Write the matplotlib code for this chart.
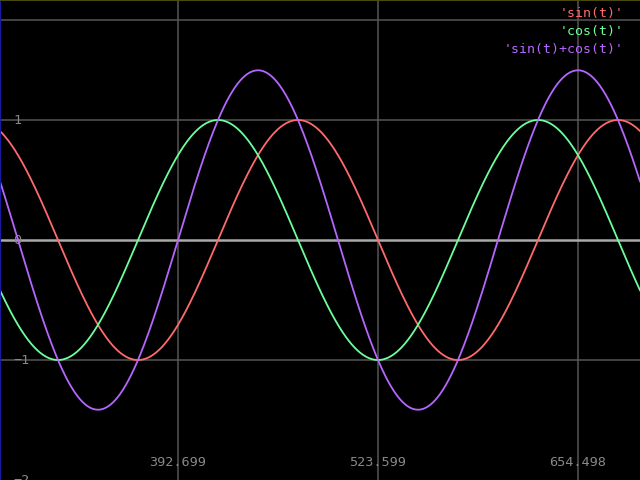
import numpy as np
import matplotlib
matplotlib.use("Agg")
import matplotlib.pyplot as plt
from matplotlib.transforms import blended_transform_factory, IdentityTransform

# x axis range and ticks (data units), t = x * 0.03
x_min, x_max = 276.2, 695.08
x_ticks = [392.699, 523.599, 654.498]
x_tick_labels = ["392.699", "523.599", "654.498"]
y_ticks = [1, 0, -1, -2]
y_tick_labels = ["1", "0", "\u22121", "\u22122"]
t_scale = 0.03

series_names = ["'sin(t)'", "'cos(t)'", "'sin(t)+cos(t)'"]
series_colors = ["#ff6b6b", "#6cff9a", "#b566ff"]

x = np.linspace(x_min, x_max, 1500)
t = x * t_scale
series = [np.sin(t), np.cos(t), np.sin(t) + np.cos(t)]

fig = plt.figure(figsize=(6.4, 4.8), dpi=100, facecolor="black")
ax = fig.add_axes([0, 0, 1, 1])
ax.set_facecolor("black")
ax.set_xlim(x_min, x_max)
ax.set_ylim(-2, 2)
for s in ax.spines.values():
    s.set_visible(False)
ax.set_xticks([])
ax.set_yticks([])

# grid
for xv in x_ticks:
    ax.axvline(xv, color="#555555", lw=1.1, zorder=1)
for yv in (1, -1, 2 - 20 / 120):
    ax.axhline(yv, color="#555555", lw=1.1, zorder=1)
ax.axhline(0, color="#aaaaaa", lw=1.8, zorder=1)

# frame hints
ax.axvline(x_min, color="#1a1aa0", lw=1.5, zorder=4)
ax.axhline(2, color="#4a4a10", lw=1.5, zorder=4)

for y, c in zip(series, series_colors):
    ax.plot(x, y, color=c, lw=1.3, zorder=3)

mono = "DejaVu Sans Mono"
xlab_tr = blended_transform_factory(ax.transData, IdentityTransform())
for xv, lab in zip(x_ticks, x_tick_labels):
    ax.text(xv, 18, lab, transform=xlab_tr, color="#888888", fontsize=9.7,
            family=mono, ha="center", va="center", zorder=2)

ylab_tr = blended_transform_factory(IdentityTransform(), ax.transData)
for yv, lab in zip(y_ticks, y_tick_labels):
    ax.text(13, yv, lab, transform=ylab_tr, color="#888888", fontsize=9.7,
            family=mono, ha="left", va="center", zorder=2)

for i, (name, c) in enumerate(zip(series_names, series_colors)):
    ax.text(624, 480 - (14 + 17.5 * i), name, transform=IdentityTransform(),
            color=c, fontsize=9.5, family=mono, ha="right", va="center")

fig.savefig("out.png", dpi=100, facecolor="black")
